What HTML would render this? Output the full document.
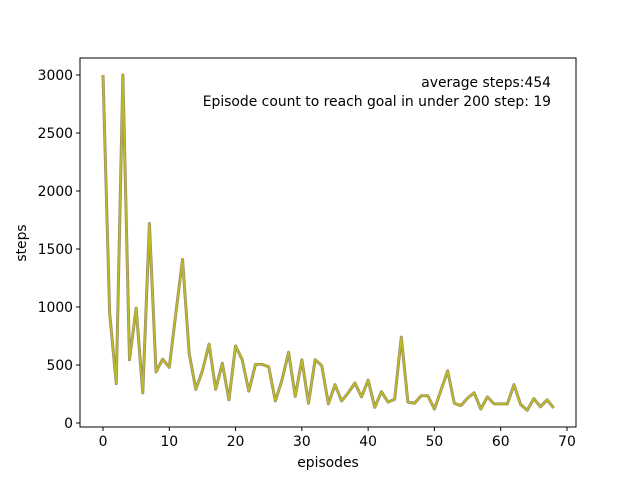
<!DOCTYPE html>
<html><head><meta charset="utf-8"><style>
body{margin:0;background:#fff;}
svg{display:block;font-family:"DejaVu Sans","Liberation Sans",sans-serif;}
</style></head><body>
<svg id="chart" width="640" height="480" xmlns="http://www.w3.org/2000/svg">
<rect x="0" y="0" width="640" height="480" fill="#fff"/>
<g id="marks"></g>
<g id="axes"></g>
<text x="551" y="87" text-anchor="end" font-size="13.9">average steps:454</text>
<text x="551" y="106" text-anchor="end" font-size="13.9">Episode count to reach goal in under 200 step: 19</text>
<text x="328" y="467" text-anchor="middle" font-size="13.9">episodes</text>
<text transform="translate(26,243) rotate(-90)" text-anchor="middle" font-size="13.9">steps</text>
</svg>
<script>
const steps = [3000,950,340,3000,545,990,260,1720,440,550,480,950,1410,600,290,450,680,290,515,200,665,545,275,505,505,485,190,370,610,230,545,170,545,495,165,330,190,260,345,225,370,135,270,180,205,740,180,170,235,235,120,285,450,170,150,215,260,120,225,165,165,165,330,160,110,210,140,200,130];
const xTicks = [0,10,20,30,40,50,60,70];
const yTicks = [0,500,1000,1500,2000,2500,3000];
const L=80,R=576,T=58,B=427;
function xs(v){return 103+v*(567-103)/70;}
function ys(v){return 423-v*(423-75)/3000;}
const NS="http://www.w3.org/2000/svg";
const marks=document.getElementById('marks');
const axes=document.getElementById('axes');
const pts=steps.map((v,i)=>xs(i).toFixed(2)+","+ys(v).toFixed(2)).join(" ");
const under=document.createElementNS(NS,'polyline');
under.setAttribute('points',pts);under.setAttribute('fill','none');under.setAttribute('stroke','#9a8a6a');under.setAttribute('stroke-width','3');under.setAttribute('stroke-linejoin','round');


marks.appendChild(under);
const line=document.createElementNS(NS,'polyline');
line.setAttribute('points',pts);line.setAttribute('fill','none');line.setAttribute('stroke','#bcbd22');line.setAttribute('stroke-width','1.6');line.setAttribute('stroke-linejoin','round');


marks.appendChild(line);
const frame=document.createElementNS(NS,'rect');
frame.setAttribute('x',L);frame.setAttribute('y',T);frame.setAttribute('width',R-L);frame.setAttribute('height',B-T);frame.setAttribute('fill','none');frame.setAttribute('stroke','#000');frame.setAttribute('stroke-width','1');


axes.appendChild(frame);
xTicks.forEach(t=>{
  const x=xs(t);
  const l=document.createElementNS(NS,'line');
  l.setAttribute('x1',x);l.setAttribute('x2',x);l.setAttribute('y1',B);l.setAttribute('y2',B+4);l.setAttribute('stroke','#000');
  
  
  axes.appendChild(l);
  const tx=document.createElementNS(NS,'text');
  tx.setAttribute('x',x);tx.setAttribute('y',B+19);tx.setAttribute('text-anchor','middle');tx.setAttribute('font-size','13.9');tx.textContent=t;
  
  
  axes.appendChild(tx);
});
yTicks.forEach(t=>{
  const y=ys(t);
  const l=document.createElementNS(NS,'line');
  l.setAttribute('x1',L-4);l.setAttribute('x2',L);l.setAttribute('y1',y);l.setAttribute('y2',y);l.setAttribute('stroke','#000');
  
  
  axes.appendChild(l);
  const tx=document.createElementNS(NS,'text');
  tx.setAttribute('x',L-7);tx.setAttribute('y',y+5);tx.setAttribute('text-anchor','end');tx.setAttribute('font-size','13.9');tx.textContent=t;
  
  
  axes.appendChild(tx);
});
</script>
</body></html>
